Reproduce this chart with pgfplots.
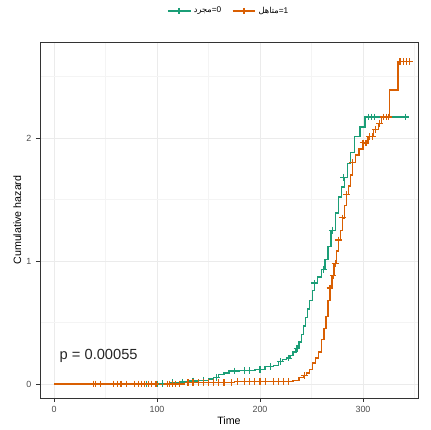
\documentclass[border=0pt]{standalone}
\usepackage{fontspec}
\setmainfont{Liberation Sans}
\newfontfamily\arabicfont[Script=Arabic]{DejaVu Sans}
\TeXXeTstate=1
\usepackage{pgfplots}
\pgfplotsset{compat=1.18}
\definecolor{grpA}{HTML}{1B9E77}
\definecolor{grpB}{HTML}{D95F02}
\definecolor{gridmaj}{HTML}{EBEBEB}
\definecolor{gridmin}{HTML}{F4F4F4}
\definecolor{axgray}{HTML}{333333}
\definecolor{tickgray}{HTML}{4D4D4D}

\begin{document}
\begin{tikzpicture}
\begin{axis}[
  scale only axis,
  width=283.5pt, height=267pt,
  xmin=-13.6, xmax=353.4,
  ymin=-0.114, ymax=2.78,
  xtick={0,100,200,300},
  ytick={0,1,2},
  minor xtick={50,150,250,350},
  minor ytick={0.5,1.5,2.5},
  grid=both,
  major grid style={gridmaj, line width=0.6pt},
  minor grid style={gridmin, line width=0.4pt},
  axis line style={axgray, line width=0.7pt},
  tick align=outside,
  xtick pos=bottom, ytick pos=left,
  major tick length=3pt,
  minor tick length=0pt,
  major tick style={axgray, line width=0.5pt},
  tick label style={font=\fontsize{6.7}{8}\selectfont, text=tickgray},
  /pgf/number format/assume math mode=true,
  xlabel={Time}, ylabel={Cumulative hazard},
  label style={font=\fontsize{8}{9.6}\selectfont},
  xlabel style={yshift=4pt},
  ylabel style={yshift=-3pt},
  legend style={at={(0.5,1)}, anchor=south, yshift=16pt, draw=none,
    font=\fontsize{6.2}{7}\selectfont, legend columns=2,
    /tikz/every even column/.append style={column sep=6pt}},
  legend cell align=left,
]
% group 0 : step curve
\addplot[const plot, color=grpA, draw=grpA, line width=1pt, mark=none,
  legend image post style={mark=+, mark size=2.2pt, mark options={draw=grpA}}] coordinates {
(0,0) (103,0.005) (112,0.01) (122,0.015) (130,0.025) (140,0.03) (150,0.04)
(155,0.055) (160,0.075) (165,0.09) (170,0.105) (180,0.11) (195,0.12)
(205,0.14) (213,0.15) (218,0.18) (222,0.2) (226,0.21) (229,0.23) (232,0.26)
(235,0.29) (238,0.34) (240,0.4) (242,0.47) (244,0.54) (246,0.61) (248,0.68)
(251,0.76) (253,0.82) (256,0.87) (260,0.93) (263,1.01) (266,1.12) (269,1.25)
(273,1.39) (276,1.52) (279,1.6) (282,1.68) (285,1.79) (288,1.88) (292,2.01)
(297,2.09) (302,2.17) (341,2.17)};
\addlegendentry{{\arabicfont\beginR مجرد\endR}=0}
% group 1 : step curve
\addplot[const plot, color=grpB, draw=grpB, line width=1pt, mark=none,
  legend image post style={mark=+, mark size=2.2pt, mark options={draw=grpB}}] coordinates {
(0,0) (127,0.012) (175,0.022) (232,0.03) (238,0.05) (242,0.07) (245,0.09)
(248,0.12) (251,0.17) (254,0.21) (257,0.26) (260,0.36) (262,0.45) (264,0.55)
(266,0.68) (268,0.78) (270,0.88) (272,0.98) (274,1.08) (276,1.17) (278,1.25)
(280,1.35) (282,1.45) (284,1.54) (286,1.61) (288,1.7) (290,1.8) (293,1.86)
(296,1.91) (300,1.96) (305,2.01) (310,2.07) (315,2.12) (318,2.17) (326,2.39)
(334,2.62) (345,2.62)};
\addlegendentry{{\arabicfont\beginR متاهل\endR}=1}
% censored observations
\addplot[only marks, color=grpA, draw=grpA, mark=+, mark size=2.5pt, line width=0.9pt,
  mark options={draw=grpA, solid}, forget plot] coordinates {
(90,0) (95,0) (100,0) (105,0.005) (115,0.01) (125,0.015) (135,0.025)
(145,0.03) (158,0.055) (175,0.105) (185,0.11) (190,0.11) (200,0.12)
(210,0.14) (220,0.18) (228,0.21) (236,0.29) (253,0.82) (262,0.93)
(270,1.25) (281,1.68) (305,2.17) (308,2.17) (311,2.17) (341,2.17)};
\addplot[only marks, color=grpB, draw=grpB, mark=+, mark size=2.5pt, line width=0.9pt,
  mark options={draw=grpB, solid}, forget plot] coordinates {
(38,0) (40,0) (45,0) (58,0) (62,0) (65,0) (70,0) (78,0) (82,0) (85,0)
(88,0) (92,0) (95,0) (99,0) (110,0) (112,0) (115,0) (118,0) (122,0)
(130,0.012) (135,0.012) (140,0.012) (145,0.012) (150,0.012) (155,0.012)
(160,0.012) (165,0.012) (172,0.012) (178,0.022) (185,0.022) (190,0.022)
(195,0.022) (200,0.022) (205,0.022) (213,0.022) (218,0.022) (223,0.022)
(228,0.022) (243,0.07) (268,0.78) (271,0.88) (273,0.98) (276,1.17)
(280,1.35) (284,1.54) (290,1.8) (300,1.96) (303,1.96) (306,2.01) (309,2.01)
(312,2.07) (316,2.12) (320,2.17) (323,2.17) (325,2.17) (336,2.62)
(339,2.62) (342,2.62) (345,2.62)};
\node[anchor=west, text=black!85, font=\fontsize{11}{13}\selectfont] at (axis cs:1,0.23) {p = 0.00055};
\end{axis}
\pgfresetboundingbox
\path[use as bounding box] ([xshift=-30pt,yshift=-24pt]current axis.south west)
  rectangle ([xshift=9.75pt,yshift=31.5pt]current axis.north east);
\end{tikzpicture}
\end{document}
